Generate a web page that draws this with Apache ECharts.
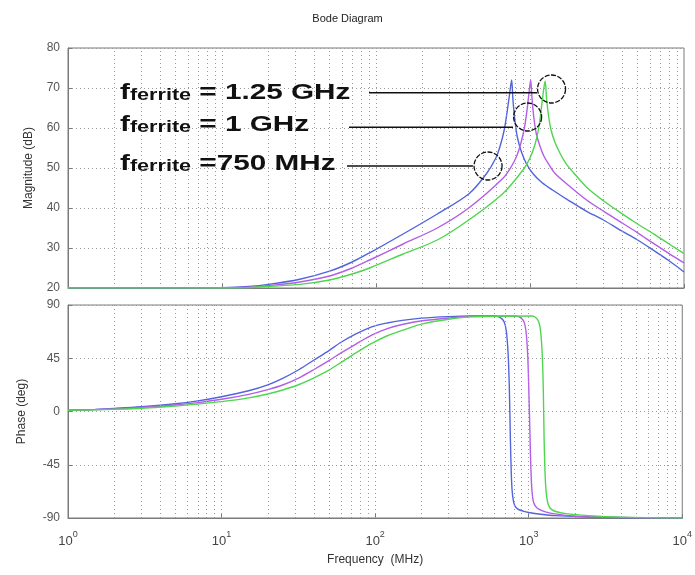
<!DOCTYPE html>
<html>
<head>
<meta charset="utf-8">
<script src="https://cdn.jsdelivr.net/npm/echarts@6/dist/echarts.min.js"></script>
<style>
  html, body { margin: 0; padding: 0; background: #fff; }
  #chart { width: 695px; height: 575px; }
</style>
</head>
<body>
<div id="chart"></div>
<script>
// frequency ticks (MHz) and dotted vertical grid positions
const freqTicks = [1, 10, 100, 1000, 10000];
const freqGrid = [2, 3, 4, 5, 6, 7, 8, 9, 10, 20, 30, 40, 50, 60, 70, 80, 90, 100,
  200, 300, 400, 500, 600, 700, 800, 900, 1000, 2000, 3000, 4000, 5000, 6000, 7000, 8000, 9000];
const magTicks = [20, 30, 40, 50, 60, 70, 80];
const phaseTicks = [-90, -45, 0, 45, 90];

// magnitude (dB)
const magBlueF = [1, 5, 10, 15, 20, 32, 50, 70, 91, 150, 250, 400, 520, 600, 640, 680, 710, 740, 760, 775, 800, 830, 880, 950, 1050, 1200, 1400, 1800, 2300, 3000, 3800, 5000, 6300, 8000, 10000];
const magBlue  = [20, 20, 20.1, 20.4, 20.9, 22.2, 24.2, 26.5, 28.8, 33.5, 38.5, 43.5, 48.5, 52.5, 55.5, 59.5, 64, 69, 72, 67, 61.5, 57.5, 54, 51, 48.5, 46.3, 44.5, 41.8, 39.3, 37, 34.6, 32, 29.5, 26.8, 24];
const magMagF  = [1, 5, 10, 15, 20, 32, 50, 70, 91, 150, 250, 400, 670, 760, 820, 870, 920, 960, 990, 1010, 1030, 1060, 1100, 1160, 1230, 1330, 1450, 1800, 2330, 3000, 3840, 5000, 6300, 8000, 10000];
const magMag   = [20, 20, 20.05, 20.2, 20.6, 21.5, 23, 25, 27, 31, 35, 40, 47.5, 50.5, 53, 56, 60, 65, 69.5, 72, 67.5, 62.5, 58.5, 55.5, 53, 50.8, 48.7, 45.5, 42, 39.2, 36.6, 33.8, 31.2, 28.6, 26.3];
const magGrnF  = [1, 5, 10, 15, 20, 32, 50, 70, 91, 150, 250, 400, 670, 900, 1000, 1080, 1140, 1190, 1230, 1255, 1280, 1320, 1370, 1450, 1560, 1700, 1900, 2330, 3000, 3840, 5000, 6300, 8000, 10000];
const magGrn   = [20, 20, 20, 20.1, 20.4, 20.9, 22, 23.5, 25, 28.5, 32, 37, 43.7, 49.5, 52.5, 56, 60, 65.5, 70, 71.7, 67.5, 63, 59.5, 56.5, 53.8, 51.3, 49, 45.2, 41.8, 38.9, 36, 33.6, 31, 28.6];

// phase (deg)
const phBlueF = [1, 1.5, 2, 3, 5, 7, 10, 15, 20, 25, 32, 40, 50, 60, 75, 95, 120, 150, 200, 300, 426, 600, 650, 690, 715, 735, 748, 760, 770, 780, 795, 815, 850, 920, 1000, 1200, 1500, 2500, 5000, 10000];
const phBlue  = [1, 1.8, 2.6, 4, 6.5, 9, 12.5, 17.5, 22.5, 28, 35.5, 43.5, 51.5, 58.5, 65.5, 71.5, 74.8, 77, 78.9, 80.2, 80.7, 80.7, 79.5, 76, 68, 48, 20, -24, -52, -67, -75.5, -80, -82.5, -84.2, -85.3, -86.8, -88, -89.2, -89.8, -90];
const phMagF  = [1, 1.5, 2, 3, 5, 7, 10, 15, 20, 25, 32, 40, 50, 60, 75, 95, 120, 150, 203, 300, 426, 819, 880, 930, 960, 985, 1002, 1015, 1026, 1040, 1052, 1070, 1100, 1161, 1300, 1490, 1930, 3000, 10000];
const phMag   = [1, 1.6, 2.2, 3.4, 5.5, 7.5, 10.3, 14.5, 18.5, 22.4, 28.5, 35.5, 43, 49.5, 57, 64.5, 70, 73.5, 76.7, 79, 80.5, 80.7, 79.5, 76, 68, 48, 18, -10, -35, -58, -68, -75.5, -79.5, -82.5, -85, -86.5, -88.3, -89.3, -90];
const phGrnF  = [1, 1.5, 2, 3, 5, 7, 10, 15, 20, 25, 32, 40, 50, 60, 75, 95, 120, 150, 203, 300, 426, 1052, 1110, 1160, 1195, 1225, 1245, 1260, 1275, 1290, 1310, 1340, 1400, 1500, 1740, 2460, 4000, 10000];
const phGrn   = [1, 1.4, 1.9, 2.8, 4.6, 6.3, 8.3, 11.5, 14.8, 18.2, 22.8, 28.5, 35, 41.5, 49.5, 57.5, 64, 68.5, 74, 78, 80, 80.7, 79.5, 76, 68, 48, 18, -24, -48, -63, -72, -78.5, -82.5, -84.5, -86.3, -88, -89.3, -90];

const colors = ['#5264dc', '#b25ee6', '#4fd64f'];
const font = 'Liberation Sans, Arial, sans-serif';

function pairs(xs, ys) { return xs.map((x, i) => [x, ys[i]]); }

let myChart = echarts.init(document.getElementById('chart'));

function xAxisCfg(idx, showLabel) {
  return {
    type: 'log', logBase: 10, min: freqTicks[0], max: freqTicks[freqTicks.length - 1], gridIndex: idx,
    name: showLabel ? 'Frequency  (MHz)' : '',
    nameLocation: 'middle', nameGap: 36,
    nameTextStyle: { fontFamily: font, fontSize: 12, color: '#333' },
    axisLine: { show: true, onZero: false, lineStyle: { color: '#7a7a7a' } },
    axisTick: { show: true, inside: true, length: 4, lineStyle: { color: '#7a7a7a' } },
    splitLine: { show: false },
    axisLabel: {
      show: showLabel, margin: 12, fontFamily: font, color: '#444',
      formatter: v => '{b|10}{s|' + Math.round(Math.log10(v)) + '}',
      rich: {
        b: { fontSize: 13, fontFamily: font, color: '#444', verticalAlign: 'bottom' },
        s: { fontSize: 9, fontFamily: font, color: '#444', verticalAlign: 'bottom', padding: [0, 0, 9, 0] }
      }
    }
  };
}

function yAxisCfg(idx, min, max, interval, name, gap) {
  return {
    type: 'value', gridIndex: idx, min: min, max: max, interval: interval,
    name: name, nameLocation: 'middle', nameGap: gap,
    nameTextStyle: { fontFamily: font, fontSize: 12, color: '#333' },
    axisLine: { show: true, onZero: false, lineStyle: { color: '#7a7a7a' } },
    axisTick: { show: true, inside: true, length: 4, lineStyle: { color: '#7a7a7a' } },
    splitLine: { show: true, lineStyle: { color: '#9a9a9a', type: [1, 3], width: 1 } },
    axisLabel: { fontFamily: font, fontSize: 12, color: '#555', margin: 8 }
  };
}

function gridLines(idx) {
  return {
    type: 'line', xAxisIndex: idx, yAxisIndex: idx, data: [], z: 1, silent: true,
    markLine: {
      silent: true, symbol: ['none', 'none'], label: { show: false },
      lineStyle: { color: '#9a9a9a', type: [1, 3], width: 1 },
      emphasis: { disabled: true },
      data: freqGrid.map(f => ({ xAxis: f }))
    }
  };
}

function curve(idx, xs, ys, c) {
  return {
    type: 'line', xAxisIndex: idx, yAxisIndex: idx, data: pairs(xs, ys),
    showSymbol: false, smooth: 0.3, z: 3, silent: true,
    lineStyle: { color: c, width: 1.4 }, itemStyle: { color: c }
  };
}

let option = {
  animation: false,
  title: {
    text: 'Bode Diagram', left: 'center', top: 8,
    textStyle: { fontFamily: font, fontSize: 11, fontWeight: 'normal', color: '#222' }
  },
  grid: [
    { left: 68, right: 11, top: 48, height: 240, show: true, borderColor: '#7a7a7a', borderWidth: 1 },
    { left: 68, right: 11, top: 305, height: 213, show: true, borderColor: '#7a7a7a', borderWidth: 1 }
  ],
  xAxis: [xAxisCfg(0, false), xAxisCfg(1, true)],
  yAxis: [
    yAxisCfg(0, magTicks[0], magTicks[magTicks.length - 1], 10, 'Magnitude (dB)', 33),
    yAxisCfg(1, phaseTicks[0], phaseTicks[phaseTicks.length - 1], 45, 'Phase (deg)', 40)
  ],
  series: [
    gridLines(0), gridLines(1),
    curve(0, magBlueF, magBlue, colors[0]),
    curve(0, magMagF, magMag, colors[1]),
    curve(0, magGrnF, magGrn, colors[2]),
    curve(1, phBlueF, phBlue, colors[0]),
    curve(1, phMagF, phMag, colors[1]),
    curve(1, phGrnF, phGrn, colors[2])
  ]
};
myChart.setOption(option);

// annotations: text in pixels, circles and leader lines anchored in data space
const labels = [
  { t: ' = 1.25 GHz', base: 99, x0: 369, lineVal: 68.8, lineEndF: 1110, circ: [1380, 69.75] },
  { t: ' = 1 GHz', base: 131, x0: 349, lineVal: 60.2, lineEndF: 776, circ: [965, 62.75] },
  { t: ' =750 MHz', base: 170, x0: 347, lineVal: 50.5, lineEndF: 426, circ: [534, 50.5] }
];
const gfx = [];
labels.forEach(l => {
  gfx.push({
    type: 'text', x: 120, y: l.base + 5, scaleX: 1.35, originX: 0, z: 10,
    style: {
      text: '{a|f}{b|ferrite}{a|' + l.t + '}',
      verticalAlign: 'bottom', align: 'left',
      rich: {
        a: { fontSize: 22, fontWeight: 'bold', fontFamily: font, fill: '#111', verticalAlign: 'bottom', lineHeight: 26 },
        b: { fontSize: 16, fontWeight: 'bold', fontFamily: font, fill: '#111', verticalAlign: 'bottom', lineHeight: 26 }
      }
    }
  });
  const c = myChart.convertToPixel({ gridIndex: 0 }, l.circ);
  const e = myChart.convertToPixel({ gridIndex: 0 }, [l.lineEndF, l.lineVal]);
  gfx.push({
    type: 'line', z: 10, shape: { x1: l.x0, y1: e[1], x2: e[0], y2: e[1] },
    style: { stroke: '#111', lineWidth: 1.6 }
  });
  gfx.push({
    type: 'circle', z: 10, shape: { cx: c[0], cy: c[1], r: 14 },
    style: { fill: null, stroke: '#111', lineWidth: 1.3, lineDash: [5, 1.5] }
  });
});
myChart.setOption({ graphic: gfx });
</script>
</body>
</html>
